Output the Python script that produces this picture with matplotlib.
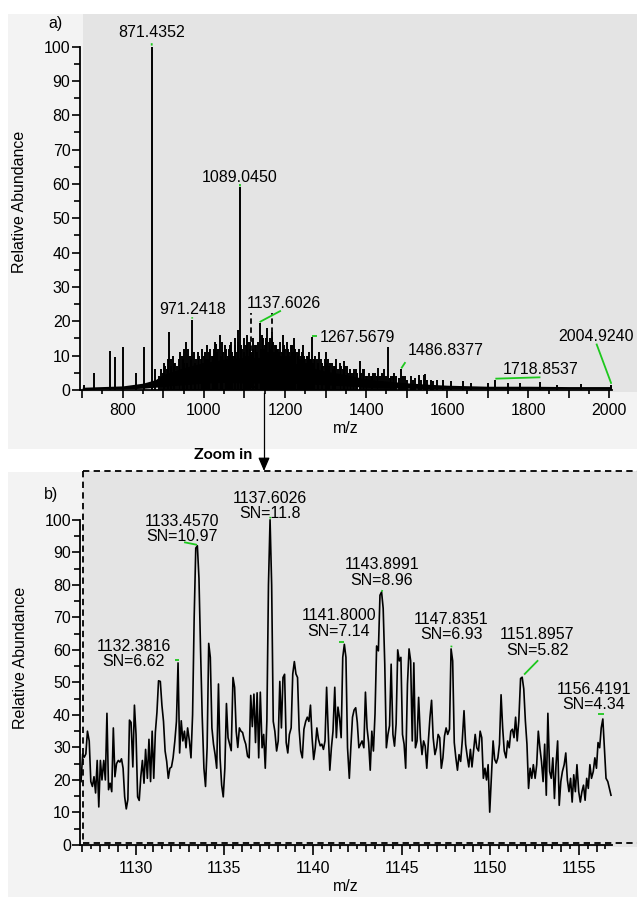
import matplotlib.pyplot as plt
from matplotlib.patches import Rectangle
from matplotlib.lines import Line2D
from matplotlib.ticker import MultipleLocator, FixedLocator, FuncFormatter

# ---------------------------------------------------------------------------------------------- #
# We define each data set.
# ---------------------------------------------------------------------------------------------- #
# Panel a) : full mass spectrum, peak sticks.
PeakMz = [705, 728, 768, 780, 800, 833, 853, 871.4, 880, 905, 915, 920, 930, 938, 945, 950, 955,
          962, 968, 971.2, 978, 985, 992, 1000, 1005, 1013, 1020, 1025, 1030, 1040, 1048, 1055,
          1060, 1065, 1070, 1078, 1085, 1089.0, 1095, 1100, 1107, 1111, 1115, 1122, 1128, 1132,
          1137.6, 1145, 1150, 1155, 1160, 1168, 1175, 1180, 1185, 1190, 1195, 1200, 1205, 1210,
          1215, 1222, 1228, 1235, 1240, 1245, 1250, 1255, 1262, 1267.6, 1272, 1278, 1285, 1292,
          1300, 1306, 1312, 1320, 1327, 1335, 1345, 1352, 1360, 1368, 1375, 1384, 1392, 1400,
          1408, 1415, 1422, 1430, 1440, 1445, 1453, 1462, 1470, 1475, 1486.8, 1495, 1510, 1520,
          1530, 1542, 1550, 1560, 1575, 1590, 1610, 1640, 1660, 1700, 1718.9, 1750, 1780, 1830,
          1870, 1930, 2004.9]
PeakInt = [1.5, 5, 11.5, 9.5, 12.5, 5, 12.5, 100, 6, 7, 17, 9, 8, 9, 10, 8, 14,
           12, 9, 20.5, 8, 11, 9, 10, 9, 11, 10, 12, 13.5, 16, 11, 12,
           10, 13, 11, 15, 17.5, 59, 12, 15, 16, 10, 14, 12, 13, 11,
           19.5, 15, 13, 18, 14, 17, 13, 12, 11, 10, 16, 12, 14, 11,
           13, 15, 11, 12, 10, 13, 9, 10, 9, 15.5, 9, 9, 11, 8,
           11, 9, 8, 7, 9, 8, 8.5, 7, 6, 5, 6, 8.5, 6, 4,
           5, 4, 5, 6.5, 5, 6, 12.5, 4, 5, 4, 6, 4, 4, 3.5,
           4.5, 4.5, 3, 3, 3, 3, 2.5, 2.5, 2, 2, 3, 2, 2, 2.3,
           1.5, 1.8, 1.5]

# Panel a) : the many small peaks of the crowded region.
SmallMz = [890, 894, 898, 902, 908, 911, 918, 924, 927, 934, 941, 948, 952, 958, 965, 975, 981,
           988, 995, 998, 1003, 1008, 1010, 1016, 1023, 1028, 1033, 1036, 1043, 1045, 1051, 1058,
           1063, 1068, 1073, 1076, 1081, 1083, 1092, 1098, 1103, 1105, 1109, 1113, 1118, 1120,
           1125, 1130, 1134, 1140, 1143, 1148, 1152, 1158, 1163, 1165, 1171, 1173, 1178, 1183,
           1188, 1193, 1198, 1203, 1208, 1213, 1218, 1220, 1225, 1231, 1233, 1238, 1243, 1248,
           1253, 1258, 1260, 1265, 1270, 1275, 1281, 1288, 1295, 1298, 1303, 1309, 1315, 1318,
           1324, 1330, 1338, 1342, 1348, 1355, 1363, 1371, 1378, 1388, 1395, 1403, 1412, 1418,
           1426, 1435, 1448, 1458, 1466, 1480, 1490, 1500, 1515, 1535, 1545, 1565]
SmallInt = [4, 6, 5, 8, 6, 9, 7, 10, 8, 7, 11, 9, 12, 8, 10, 11, 9,
            10, 12, 8, 11, 13, 9, 12, 10, 14, 11, 12, 10, 14, 13, 9,
            12, 14, 10, 13, 11, 14, 13, 11, 13, 10, 14, 12, 11, 15,
            13, 10, 14, 12, 16, 12, 15, 11, 15, 12, 14, 11, 13, 12,
            14, 11, 13, 10, 12, 10, 13, 11, 12, 10, 11, 9, 11, 10,
            8, 10, 11, 9, 8, 10, 8, 9, 7, 9, 8, 7, 8, 6,
            7, 6, 7, 6, 7, 5, 5, 6, 5, 5, 6, 4, 4, 5,
            4, 4, 4, 3.5, 4, 3.5, 4, 3, 3, 3, 4.8, 2.5]

# Panel a) : noise band under the sticks.
NoiseMz = [700, 750, 800, 850, 880, 900, 925, 950, 1000, 1050, 1100, 1150, 1200, 1250, 1300,
           1350, 1400, 1450, 1500, 1550, 1600, 1700, 1800, 1900, 2005]
NoiseHi = [0.8, 1, 1.2, 2, 3, 4.5, 5.5, 6.5, 8, 9, 9.5, 9.5, 8.5, 7, 5.5,
           4.5, 3.2, 2.6, 2.1, 1.7, 1.4, 1.1, 1.1, 1, 1]
NoiseLo = [0, 0.3, 0.3, 0.5, 0.8, 1, 1.3, 1.5, 2, 2.2, 2, 2, 2, 1.8, 1.5,
           1.2, 0.8, 0.6, 0.5, 0.4, 0.3, 0.3, 0.3, 0.3, 0.3]

# Panel a) : labelled peaks.
TopLabelMz = [871.4352, 1089.0450, 971.2418, 1137.6026, 1267.5679, 1486.8377, 1718.8537, 2004.9240]
TopLabelInt = [100, 59, 20.5, 19.5, 15.5, 6, 3, 1.5]

# Panel b) : zoomed profile spectrum.
ZoomMz = [
    1126.92, 1127.01, 1127.10, 1127.19, 1127.28, 1127.38, 1127.47, 1127.56, 1127.65, 1127.74,
    1127.83, 1127.92, 1128.01, 1128.10, 1128.20, 1128.29, 1128.38, 1128.47, 1128.56, 1128.65,
    1128.74, 1128.83, 1128.92, 1129.02, 1129.11, 1129.20, 1129.29, 1129.38, 1129.47, 1129.56,
    1129.65, 1129.74, 1129.84, 1129.93, 1130.02, 1130.11, 1130.20, 1130.29, 1130.38, 1130.47,
    1130.56, 1130.66, 1130.75, 1130.84, 1130.93, 1131.02, 1131.11, 1131.20, 1131.29, 1131.39,
    1131.48, 1131.57, 1131.66, 1131.75, 1131.84, 1131.93, 1132.02, 1132.11, 1132.21, 1132.30,
    1132.39, 1132.48, 1132.57, 1132.66, 1132.75, 1132.84, 1132.93, 1133.03, 1133.12, 1133.21,
    1133.30, 1133.39, 1133.48, 1133.57, 1133.66, 1133.75, 1133.85, 1133.94, 1134.03, 1134.12,
    1134.21, 1134.30, 1134.39, 1134.48, 1134.57, 1134.67, 1134.76, 1134.85, 1134.94, 1135.03,
    1135.12, 1135.21, 1135.30, 1135.39, 1135.49, 1135.58, 1135.67, 1135.76, 1135.85, 1135.94,
    1136.03, 1136.12, 1136.21, 1136.31, 1136.40, 1136.49, 1136.58, 1136.67, 1136.76, 1136.85,
    1136.94, 1137.03, 1137.13, 1137.22, 1137.31, 1137.40, 1137.49, 1137.58, 1137.67, 1137.76,
    1137.85, 1137.95, 1138.04, 1138.13, 1138.22, 1138.31, 1138.40, 1138.49, 1138.58, 1138.67,
    1138.77, 1138.86, 1138.95, 1139.04, 1139.13, 1139.22, 1139.31, 1139.40, 1139.49, 1139.59,
    1139.68, 1139.77, 1139.86, 1139.95, 1140.04, 1140.13, 1140.22, 1140.31, 1140.41, 1140.50,
    1140.59, 1140.68, 1140.77, 1140.86, 1140.95, 1141.04, 1141.13, 1141.23, 1141.32, 1141.41,
    1141.50, 1141.59, 1141.68, 1141.77, 1141.86, 1141.95, 1142.05, 1142.14, 1142.23, 1142.32,
    1142.41, 1142.50, 1142.59, 1142.68, 1142.77, 1142.87, 1142.96, 1143.05, 1143.14, 1143.23,
    1143.32, 1143.41, 1143.50, 1143.59, 1143.69, 1143.78, 1143.87, 1143.96, 1144.05, 1144.14,
    1144.23, 1144.32, 1144.41, 1144.51, 1144.60, 1144.69, 1144.78, 1144.87, 1144.96, 1145.05,
    1145.14, 1145.23, 1145.33, 1145.42, 1145.51, 1145.60, 1145.69, 1145.78, 1145.87, 1145.96,
    1146.06, 1146.15, 1146.24, 1146.33, 1146.42, 1146.51, 1146.60, 1146.69, 1146.78, 1146.88,
    1146.97, 1147.06, 1147.15, 1147.24, 1147.33, 1147.42, 1147.51, 1147.60, 1147.70, 1147.79,
    1147.88, 1147.97, 1148.06, 1148.15, 1148.24, 1148.33, 1148.42, 1148.52, 1148.61, 1148.70,
    1148.79, 1148.88, 1148.97, 1149.06, 1149.15, 1149.24, 1149.34, 1149.43, 1149.52, 1149.61,
    1149.70, 1149.79, 1149.88, 1149.97, 1150.06, 1150.16, 1150.25, 1150.34, 1150.43, 1150.52,
    1150.61, 1150.70, 1150.79, 1150.89, 1150.98, 1151.07, 1151.16, 1151.25, 1151.34, 1151.43,
    1151.52, 1151.61, 1151.71, 1151.80, 1151.89, 1151.98, 1152.07, 1152.16, 1152.25, 1152.34,
    1152.43, 1152.53, 1152.62, 1152.71, 1152.80, 1152.89, 1152.98, 1153.07, 1153.16, 1153.25,
    1153.35, 1153.44, 1153.53, 1153.62, 1153.71, 1153.80, 1153.89, 1153.98, 1154.07, 1154.17,
    1154.26, 1154.35, 1154.44, 1154.53, 1154.62, 1154.71, 1154.80, 1154.89, 1154.99, 1155.08,
    1155.17, 1155.26, 1155.35, 1155.44, 1155.53, 1155.62, 1155.71, 1155.81, 1155.90, 1155.99,
    1156.08, 1156.17, 1156.26, 1156.35, 1156.44, 1156.53, 1156.63, 1156.72, 1156.81]
ZoomInt = [
    19.5, 28, 27, 28, 35, 32, 19.5, 18, 21, 16,
    26, 11.7, 26, 20, 26, 20, 40.5, 17, 19, 16.4,
    36, 21, 25, 26, 25.5, 26.5, 23.6, 14.8, 11.1, 14,
    38.4, 37.7, 24, 43, 34, 14.8, 13.7, 21, 26, 19,
    29.4, 20.5, 32.5, 19.5, 35, 20.5, 34.6, 40.8, 50.5, 50.3,
    43, 38, 28.9, 25.7, 20.5, 23.6, 24, 26.8, 32, 38,
    56, 28.3, 38.2, 32, 35, 29.9, 36, 32, 26.8, 40,
    70, 91.3, 92, 82, 60, 40, 23.6, 18, 30, 62,
    57.7, 36, 31, 27.8, 23.6, 49.5, 26.8, 18.4, 14.8, 23.6,
    43.5, 33, 31, 29, 51.5, 48.5, 35, 30, 36, 35,
    34.6, 32.5, 31, 27.3, 26.8, 46, 36.4, 46.4, 31.5, 46.8,
    26.8, 47, 29.9, 34, 23.6, 38.2, 80, 100, 80, 38,
    35, 28.9, 32, 50.3, 36, 51.5, 52.5, 31.5, 28.3, 34,
    36, 52.6, 56.4, 52.6, 51.5, 35.6, 28.9, 26.8, 35.6, 38,
    39.3, 38, 43, 33, 26.3, 29.9, 36, 32.5, 30.5, 31,
    29.4, 32, 48.5, 35, 23, 29.9, 35, 48.5, 33, 42.4,
    39, 33, 57.7, 61.7, 57.7, 29.9, 20.5, 30.4, 39.3, 41.5,
    42.2, 37.7, 29.9, 31, 32, 29.9, 47, 36, 31.5, 23,
    35, 28.9, 40.3, 61.2, 59.7, 76.8, 77.8, 72.8, 55.6, 29.9,
    34, 36.7, 55.6, 34, 30.4, 37.2, 60, 56.6, 57.7, 34,
    31, 23.6, 49.5, 60.3, 56.6, 32, 56, 29.9, 32, 45.4,
    33, 27.8, 32, 30.4, 23.6, 32, 39.3, 44.5, 33, 27.8,
    29.9, 34, 33, 23.6, 26.8, 33.5, 36, 34, 35.6, 60.3,
    56.6, 31.5, 26.8, 23, 27.8, 25.7, 32, 41.3, 31, 27.3,
    24, 29.4, 24, 28.9, 34, 29.9, 28.9, 35, 33, 20.5,
    23.6, 20, 24.7, 10.1, 20.5, 32, 26.3, 25.2, 26.8, 31,
    46.2, 36, 28.9, 26.8, 32, 29.9, 35, 35.6, 33, 39.3,
    32, 38.2, 51.2, 51.6, 48, 38.2, 31, 17.4, 23.6, 20.5,
    24.7, 20.5, 24.7, 35, 29.9, 25.7, 19.5, 31, 15.3, 40.5,
    22.6, 20.5, 26.8, 14.3, 24.7, 32, 12.2, 19.5, 22.6, 24.7,
    28.3, 20, 16.4, 20.5, 13.2, 21.6, 16.4, 24.7, 16.4, 13.2,
    16.4, 18.4, 13.75, 20.5, 17.4, 24.7, 20.5, 22.6, 26.8, 23.6,
    31.5, 29.9, 36, 38.75, 29.4, 20.5, 19.5, 17.4, 15.3]

# Panel b) : labelled peaks with signal to noise.
ZoomLabelMz = ['1132.3816', '1133.4570', '1137.6026', '1141.8000', '1143.8991', '1147.8351',
               '1151.8957', '1156.4191']
ZoomLabelSN = ['6.62', '10.97', '11.8', '7.14', '8.96', '6.93', '5.82', '4.34']
# ---------------------------------------------------------------------------------------------- #


# ---------------------------------------------------------------------------------------------- #
# We define plot properties.
# ---------------------------------------------------------------------------------------------- #
FontSize = 11.5
FontType = 'Liberation Sans'
Green = '#1ec81e'
Light = '#f3f3f3'
Gray = '#e4e4e4'
W, H = 637, 897
plt.rcParams['font.family'] = [FontType, 'DejaVu Sans']
plt.rcParams['font.size'] = FontSize


def fx(x):
    return x / W


def fy(y):
    return 1 - y / H


fig = plt.figure(figsize = (W / 100, H / 100), dpi = 100)
fig.patch.set_facecolor('white')

# We draw the panel backgrounds.
for x0, y0, x1, y1, c in [(8, 14, 640, 449, Light), (83, 14, 640, 392, Gray),
                          (8, 472, 640, 900, Light), (83, 471, 640, 847, Gray)]:
    fig.add_artist(Rectangle((fx(x0), fy(y1)), fx(x1) - fx(x0), fy(y0) - fy(y1),
                             transform = fig.transFigure, color = c, lw = 0, zorder = -5))


def style_axes(ax):
    ax.set_facecolor('none')
    ax.spines['top'].set_visible(False)
    ax.spines['right'].set_visible(False)
    ax.spines['left'].set_bounds(0, 100)
    ax.spines['left'].set_linewidth(1.3)
    ax.spines['bottom'].set_linewidth(1.3)
    ax.yaxis.set_major_locator(FixedLocator(range(0, 101, 10)))
    ax.yaxis.set_minor_locator(FixedLocator(range(5, 100, 10)))
    ax.tick_params(axis = 'y', which = 'major', length = 5.5, width = 1.2, pad = 1)
    ax.tick_params(axis = 'y', which = 'minor', length = 4.5, width = 1.2)
    ax.tick_params(axis = 'x', which = 'major', length = 5.5, width = 1.2, pad = 4)
    ax.tick_params(axis = 'x', which = 'minor', length = 3, width = 1.2)
    ax.set_ylabel('Relative Abundance', labelpad = 12)
    ax.set_xlabel('m/z', labelpad = 2)


# ---------------------------------------------------------------------------------------------- #
# We generate panel a).
# ---------------------------------------------------------------------------------------------- #
ax1 = fig.add_axes([fx(79.5), fy(390), fx(612) - fx(79.5), fy(14) - fy(390)])
style_axes(ax1)
ax1.fill_between(NoiseMz, NoiseLo, NoiseHi, color = 'black', lw = 0)
ax1.vlines(SmallMz, 0, SmallInt, color = 'black', lw = 1.4)
ax1.vlines(PeakMz, 0, PeakInt, color = 'black', lw = 1.4)
ax1.set_xlim(693.3, 2006.5)
ax1.set_ylim(0, 109.5)
ax1.xaxis.set_major_locator(MultipleLocator(100))
ax1.xaxis.set_minor_locator(MultipleLocator(50))
ax1.xaxis.set_major_formatter(FuncFormatter(lambda v, p: f'{v:.0f}' if round(v) % 200 == 0 else ''))

# We mark the zoomed region.
ax1.plot([1117, 1117], [0.8, 22.5], c = 'black', lw = 1.3, ls = (0, (3, 2)))
ax1.plot([1167, 1167], [0.8, 22.5], c = 'black', lw = 1.3, ls = (0, (3, 2)))
ax1.plot([1117, 1167], [0.8, 0.8], c = 'black', lw = 1.3, ls = (0, (3, 2)))

# We label the peaks: text position and green leader end for each.
TopText = [(871.4, 104, 'center'), (1089, 62, 'center'), (972, 23.5, 'center'),
           (1197, 25.3, 'center'), (1287, 15.2, 'left'), (1597, 11.4, 'center'),
           (1830, 5.9, 'center'), (1966, 15.5, 'center')]
TopLead = [(871.4, 101), (1089, 60), (971.2, 21.2), (1190, 23.1), (1278, 15.8),
           (1497, 8.1), (1830, 3.7), (1968, 13.5)]
for i in range(len(TopLabelMz)):
    tx, ty, ha = TopText[i]
    ax1.text(tx, ty, f'{TopLabelMz[i]:.4f}', ha = ha, va = 'center', fontsize = FontSize)
    ax1.plot([TopLabelMz[i], TopLead[i][0]], [TopLabelInt[i] + 0.3, TopLead[i][1]],
             c = Green, lw = 1.3, solid_capstyle = 'butt')
ax1.text(-0.031, 0.976, 'a)', transform = ax1.transAxes, ha = 'right', va = 'center')

# ---------------------------------------------------------------------------------------------- #
# We generate panel b).
# ---------------------------------------------------------------------------------------------- #
ax2 = fig.add_axes([fx(80), fy(845), fx(611.7) - fx(80), fy(471) - fy(845)])
style_axes(ax2)
ax2.plot(ZoomMz, ZoomInt, c = 'black', lw = 1.2)
ax2.set_xlim(1126.86, 1156.85)
ax2.set_ylim(0, 115)
ax2.xaxis.set_major_locator(MultipleLocator(5))
ax2.xaxis.set_minor_locator(MultipleLocator(1))
ax2.tick_params(axis = 'x', which = 'major', length = 7.5)
ax2.tick_params(axis = 'x', which = 'minor', length = 5)
sec = ax2.secondary_xaxis('bottom')
sec.set_xticks([v + 0.5 for v in range(1126, 1157)])
sec.set_xticklabels([])
sec.tick_params(length = 3, width = 1.2)
sec.spines['bottom'].set_visible(False)

ZoomText = [(1129.88, 58.7), (1132.61, 97.2), (1137.58, 104.2), (1141.45, 68.1),
            (1143.89, 83.7), (1147.81, 67.0), (1152.66, 62.3), (1155.85, 45.5)]
ZoomLead = [((1132.2, 57), (1132.42, 57)), ((1132.73, 93.1), (1133.46, 92.3)),
            ((1137.58, 100.4), (1137.6, 100.9)), ((1141.45, 62.4), (1141.77, 62.4)),
            ((1143.89, 77.9), (1143.91, 78.4)), ((1147.8, 60.8), (1147.82, 61.3)),
            ((1151.91, 52.4), (1152.7, 56.8)), ((1156.08, 40.3), (1156.42, 40.3))]
for i in range(len(ZoomLabelMz)):
    tx, ty = ZoomText[i]
    ax2.text(tx, ty, f'{ZoomLabelMz[i]}\nSN={ZoomLabelSN[i]}', ha = 'center', va = 'center',
             fontsize = FontSize, linespacing = 1.05)
    (a, b), (c, d) = ZoomLead[i]
    ax2.plot([a, c], [b, d], c = Green, lw = 1.3, solid_capstyle = 'butt')
ax2.text(-0.041, 0.936, 'b)', transform = ax2.transAxes, ha = 'right', va = 'center')

# ---------------------------------------------------------------------------------------------- #
# We draw the zoom box, arrow and caption.
# ---------------------------------------------------------------------------------------------- #
Dash = (0, (3.5, 2.4))
for xs, ys in [((83, 640), (471, 471)), ((83, 83), (471, 843)), ((83, 640), (843, 843))]:
    fig.add_artist(Line2D([fx(v) for v in xs], [fy(v) for v in ys], transform = fig.transFigure,
                          c = 'black', lw = 1.3, ls = Dash, zorder = 10))
fig.add_artist(Line2D([fx(264), fx(264)], [fy(393), fy(462)], transform = fig.transFigure,
                      c = 'black', lw = 0.9, zorder = 10))
ax1.annotate('', xy = (fx(264), fy(471)), xytext = (fx(264), fy(460)),
             xycoords = 'figure fraction', textcoords = 'figure fraction',
             arrowprops = dict(arrowstyle = '-|>,head_length=0.7,head_width=0.3', color = 'black',
                               lw = 0.9, shrinkA = 0, shrinkB = 0), annotation_clip = False)
fig.text(fx(252), fy(455), 'Zoom in', ha = 'right', va = 'center', fontsize = 11.5,
         fontweight = 'bold', family = ['Lato', 'DejaVu Sans'])

fig.savefig('out.png', dpi = 100)
# ---------------------------------------------------------------------------------------------- #
